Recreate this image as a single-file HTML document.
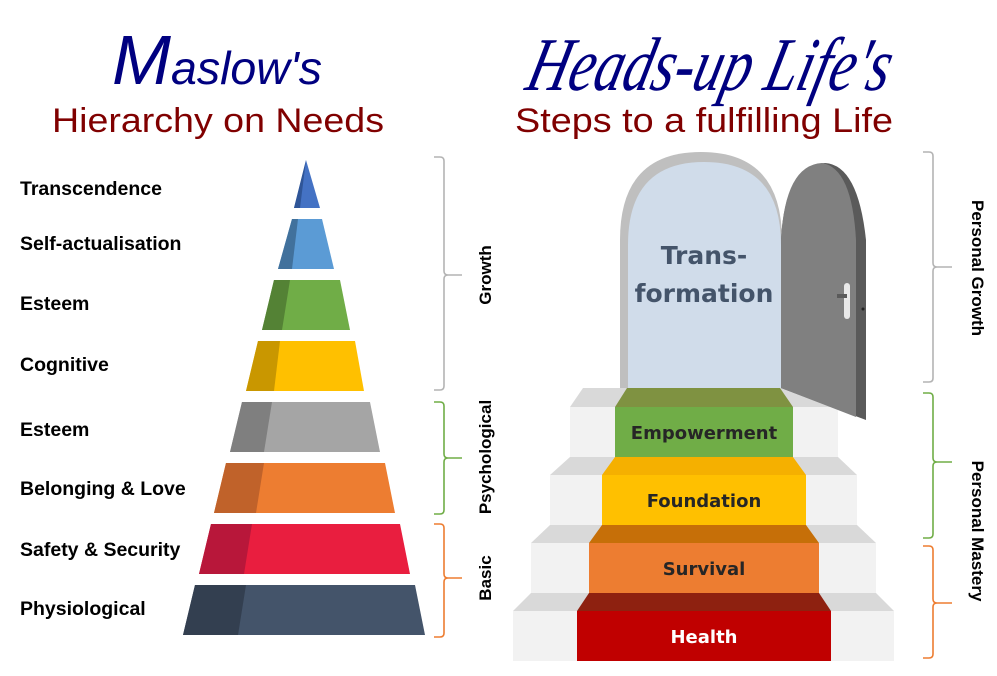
<!DOCTYPE html>
<html><head><meta charset="utf-8"><style>html,body{margin:0;padding:0;background:#fff}svg{display:block}</style></head><body>
<svg width="997" height="676" viewBox="0 0 997 676" xmlns="http://www.w3.org/2000/svg" font-family="Liberation Sans, sans-serif">
<!-- Titles -->
<text x="112" y="84" fill="#000080" font-style="italic" font-size="70" textLength="210" lengthAdjust="spacingAndGlyphs">M<tspan font-size="46">aslow's</tspan></text>
<text x="218" y="132" fill="#800000" font-size="34" text-anchor="middle" textLength="332" lengthAdjust="spacingAndGlyphs">Hierarchy on Needs</text>
<text x="524" y="90" fill="#000080" font-family="Liberation Serif, serif" font-style="italic" font-size="76" textLength="362" lengthAdjust="spacingAndGlyphs" transform="skewX(-14) translate(22 0)">Heads-up Life's</text>
<text x="704" y="132" fill="#800000" font-size="34" text-anchor="middle" textLength="378" lengthAdjust="spacingAndGlyphs">Steps to a fulfilling Life</text>

<!-- Pyramid -->
<polygon points="306,160 320,208 294,208" fill="#4472c4"/>
<polygon points="306,160 300,208 294,208" fill="#2f5597"/>
<polygon points="292,219 322,219 334,269 278,269" fill="#5b9bd5"/>
<polygon points="292,219 298,219 292,269 278,269" fill="#41719c"/>
<polygon points="274,280 340,280 350,330 262,330" fill="#70ad47"/>
<polygon points="274,280 290,280 282,330 262,330" fill="#548235"/>
<polygon points="258,341 355,341 364,391 246,391" fill="#ffc000"/>
<polygon points="258,341 280,341 274,391 246,391" fill="#c99700"/>
<polygon points="242,402 370,402 380,452 230,452" fill="#a5a5a5"/>
<polygon points="242,402 272,402 264,452 230,452" fill="#7f7f7f"/>
<polygon points="226,463 385,463 395,513 214,513" fill="#ed7d31"/>
<polygon points="226,463 264,463 256,513 214,513" fill="#c0622a"/>
<polygon points="211,524 400,524 410,574 199,574" fill="#e91e3f"/>
<polygon points="211,524 252,524 244,574 199,574" fill="#b8173a"/>
<polygon points="195,585 415,585 425,635 183,635" fill="#44546a"/>
<polygon points="195,585 246,585 238,635 183,635" fill="#333f50"/>

<g font-weight="bold" font-size="19.5" fill="#000">
<text x="20" y="195">Transcendence</text>
<text x="20" y="250">Self-actualisation</text>
<text x="20" y="310">Esteem</text>
<text x="20" y="371">Cognitive</text>
<text x="20" y="436">Esteem</text>
<text x="20" y="495">Belonging &amp; Love</text>
<text x="20" y="556">Safety &amp; Security</text>
<text x="20" y="615">Physiological</text>
</g>

<!-- Brackets -->
<g fill="none" stroke-width="1.6">
<path d="M434,157 H440 Q444,157 444,161 V271 Q444,275 448,275 H462 M448,275 Q444,275 444,279 V386 Q444,390 440,390 H434" stroke="#b4b4b4"/>
<path d="M434,402 H440 Q444,402 444,406 V454 Q444,458 448,458 H462 M448,458 Q444,458 444,462 V510 Q444,514 440,514 H434" stroke="#70ad47"/>
<path d="M434,524 H440 Q444,524 444,528 V574 Q444,578 448,578 H462 M448,578 Q444,578 444,582 V633 Q444,637 440,637 H434" stroke="#ed7d31"/>
<path d="M923,152 H929 Q933,152 933,156 V263 Q933,267 937,267 H952 M937,267 Q933,267 933,271 V378 Q933,382 929,382 H923" stroke="#b4b4b4"/>
<path d="M923,393 H929 Q933,393 933,397 V458 Q933,462 937,462 H952 M937,462 Q933,462 933,466 V534 Q933,538 929,538 H923" stroke="#70ad47"/>
<path d="M923,546 H929 Q933,546 933,550 V599 Q933,603 937,603 H952 M937,603 Q933,603 933,607 V654 Q933,658 929,658 H923" stroke="#ed7d31"/>
</g>
<g font-weight="bold" font-size="17" fill="#000" text-anchor="middle">
<text transform="translate(491 275) rotate(-90)">Growth</text>
<text transform="translate(491 457) rotate(-90)">Psychological</text>
<text transform="translate(491 578) rotate(-90)">Basic</text>
<text transform="translate(972 268) rotate(90)">Personal Growth</text>
<text transform="translate(972 531) rotate(90)">Personal Mastery</text>
</g>

<!-- Door frame -->
<path d="M620,390 V240 Q620,152 701,152 Q782,152 782,240 V390 Z" fill="#bfbfbf"/>
<path d="M628,390 V245 Q628,162 704,162 Q781,162 781,245 V390 Z" fill="#d0dcea"/>
<g font-family="DejaVu Sans, sans-serif" font-weight="bold" font-size="25" fill="#44546a" text-anchor="middle">
<text x="704" y="264">Trans-</text>
<text x="704" y="302">formation</text>
</g>

<!-- Stairs -->
<polygon points="583,388 826,388 838,407 570,407" fill="#d9d9d9"/>
<rect x="570" y="407" width="268" height="50" fill="#f2f2f2"/>
<polygon points="627,388 780,388 793,407 615,407" fill="#7f9241"/>
<rect x="615" y="407" width="178" height="50" fill="#70ad47"/>
<polygon points="570,457 838,457 857,475 550,475" fill="#d9d9d9"/>
<rect x="550" y="475" width="307" height="50" fill="#f2f2f2"/>
<polygon points="615,457 793,457 806,475 602,475" fill="#f5b000"/>
<rect x="602" y="475" width="204" height="50" fill="#ffc000"/>
<polygon points="550,525 857,525 876,543 531,543" fill="#d9d9d9"/>
<rect x="531" y="543" width="345" height="50" fill="#f2f2f2"/>
<polygon points="602,525 806,525 819,543 589,543" fill="#c66f08"/>
<rect x="589" y="543" width="230" height="50" fill="#ed7d31"/>
<polygon points="531,593 876,593 894,611 513,611" fill="#d9d9d9"/>
<rect x="513" y="611" width="381" height="50" fill="#f2f2f2"/>
<polygon points="589,593 819,593 831,611 577,611" fill="#8e2110"/>
<rect x="577" y="611" width="254" height="50" fill="#c00000"/>

<g font-family="DejaVu Sans, sans-serif" font-weight="bold" font-size="18" text-anchor="middle">
<text x="704" y="439" fill="#262626">Empowerment</text>
<text x="704" y="507" fill="#262626">Foundation</text>
<text x="704" y="575" fill="#262626">Survival</text>
<text x="704" y="643" fill="#fff">Health</text>
</g>

<!-- Open door -->
<path d="M781,388 V240 Q785,165 825,163 Q858,165 866,240 V420 Z" fill="#5a5a5a"/>
<path d="M781,388 V240 Q785,165 822,163 Q852,168 856,240 V417 Z" fill="#808080"/>
<rect x="844" y="283" width="6" height="36" rx="3" fill="#e8e8e8"/>
<rect x="837" y="294" width="10" height="4" fill="#5a5a5a"/>
<circle cx="863" cy="309" r="1.5" fill="#222"/>
</svg>
</body></html>
